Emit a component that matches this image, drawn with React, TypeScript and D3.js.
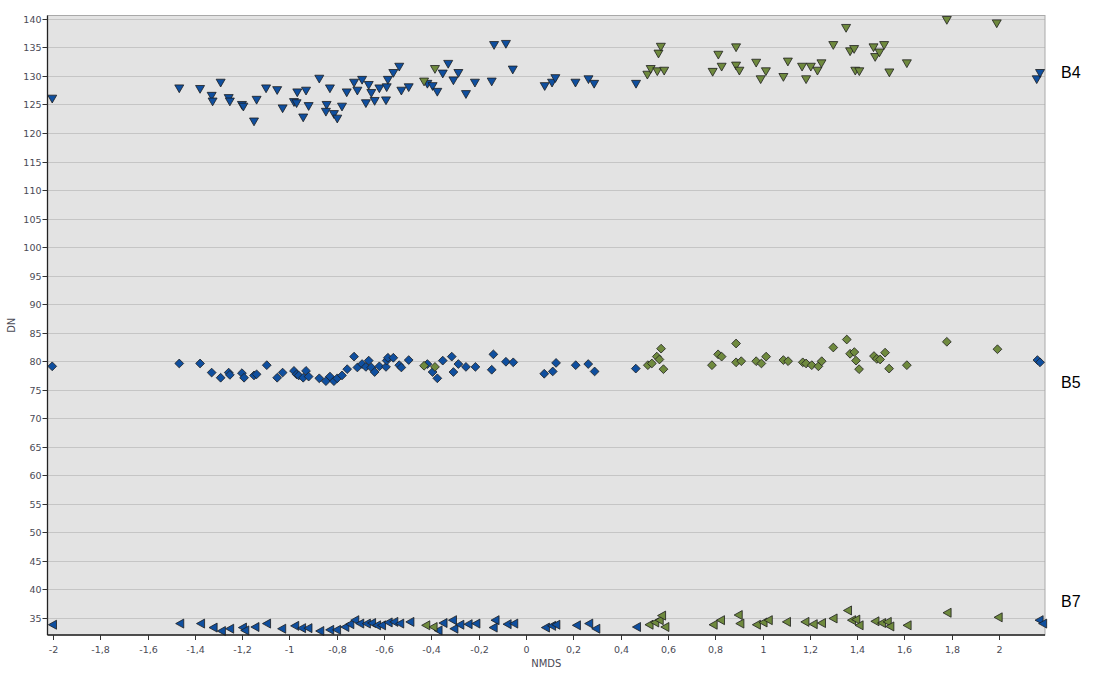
import React from "react";
import * as d3 from "d3";

// NMDS score vs. DN for bands B4, B5, B7; two sample groups (blue / green)
type Pt = [number, number];

const b4Blue: Pt[] = [
  [-2.003, 126.0], [-1.466, 127.8], [-1.378, 127.7], [-1.291, 128.8], [-1.329, 126.5], [-1.325, 125.5],
  [-1.257, 126.1], [-1.252, 125.5], [-1.201, 124.9], [-1.195, 124.6], [-1.15, 122.0], [-1.139, 125.8],
  [-1.099, 127.8], [-1.052, 127.5], [-1.029, 124.3], [-0.981, 125.4], [-0.97, 125.2], [-0.967, 127.1],
  [-0.942, 122.7], [-0.93, 127.4], [-0.919, 124.7], [-0.874, 129.5], [-0.843, 124.9], [-0.846, 123.7],
  [-0.829, 127.8], [-0.812, 123.3], [-0.798, 122.5], [-0.778, 124.6], [-0.758, 127.1], [-0.727, 128.8],
  [-0.713, 127.4], [-0.693, 129.3], [-0.677, 125.2], [-0.665, 128.4], [-0.654, 127.0], [-0.64, 125.6],
  [-0.62, 127.8], [-0.592, 125.7], [-0.589, 128.0], [-0.584, 129.3], [-0.561, 130.5], [-0.536, 131.6],
  [-0.527, 127.4], [-0.496, 128.0], [-0.417, 128.6], [-0.395, 128.2], [-0.375, 127.2], [-0.352, 130.4],
  [-0.329, 132.1], [-0.307, 129.2], [-0.286, 130.5], [-0.254, 126.8], [-0.216, 128.8], [-0.145, 129.0],
  [-0.135, 135.4], [-0.085, 135.6], [-0.056, 131.1], [0.079, 128.2], [0.11, 128.8], [0.124, 129.6],
  [0.209, 128.8], [0.264, 129.4], [0.288, 128.6], [0.465, 128.6], [2.159, 129.4], [2.173, 130.5],
];

const b4Green: Pt[] = [
  [-0.431, 129.0], [-0.385, 131.2], [0.513, 130.2], [0.527, 131.2], [0.555, 130.8], [0.584, 130.9],
  [0.56, 133.9], [0.57, 135.1], [0.789, 130.7], [0.813, 133.7], [0.827, 131.6], [0.888, 135.0],
  [0.888, 131.8], [0.902, 130.9], [0.973, 132.3], [0.992, 129.4], [1.014, 130.8], [1.088, 129.8],
  [1.107, 132.5], [1.167, 131.6], [1.184, 129.4], [1.204, 131.6], [1.232, 130.9], [1.249, 132.2],
  [1.299, 135.4], [1.353, 138.4], [1.37, 134.3], [1.387, 134.7], [1.392, 130.9], [1.409, 130.8],
  [1.469, 135.0], [1.476, 133.3], [1.494, 134.1], [1.514, 135.4], [1.536, 130.6], [1.61, 132.2],
  [1.779, 139.8], [1.99, 139.2],
];

const b5Blue: Pt[] = [
  [-2.003, 79.1], [-1.466, 79.6], [-1.378, 79.6], [-1.329, 78.0], [-1.291, 77.1], [-1.257, 78.0],
  [-1.252, 77.6], [-1.201, 77.9], [-1.192, 77.1], [-1.15, 77.5], [-1.139, 77.7], [-1.096, 79.3],
  [-1.052, 77.1], [-1.029, 78.0], [-0.981, 78.3], [-0.97, 77.7], [-0.961, 77.5], [-0.93, 78.3],
  [-0.942, 77.1], [-0.919, 77.3], [-0.874, 77.0], [-0.846, 76.5], [-0.829, 77.3], [-0.812, 76.5],
  [-0.798, 77.0], [-0.778, 77.5], [-0.756, 78.6], [-0.727, 80.8], [-0.713, 78.9], [-0.693, 79.5],
  [-0.677, 79.0], [-0.665, 80.1], [-0.654, 78.9], [-0.64, 78.1], [-0.62, 79.1], [-0.592, 79.0],
  [-0.589, 80.1], [-0.584, 80.6], [-0.561, 80.6], [-0.536, 79.3], [-0.527, 78.9], [-0.496, 80.2],
  [-0.417, 79.5], [-0.395, 78.1], [-0.375, 77.0], [-0.352, 80.1], [-0.314, 80.8], [-0.307, 78.1],
  [-0.286, 79.5], [-0.254, 79.0], [-0.214, 79.0], [-0.138, 81.2], [-0.145, 78.5], [-0.085, 79.9],
  [-0.054, 79.8], [0.077, 77.8], [0.113, 78.2], [0.127, 79.7], [0.21, 79.3], [0.263, 79.5],
  [0.29, 78.2], [0.464, 78.7], [2.162, 80.2], [2.173, 79.8],
];

const b5Green: Pt[] = [
  [-0.431, 79.2], [-0.385, 79.0], [0.515, 79.3], [0.532, 79.6], [0.553, 80.8], [0.564, 80.3],
  [0.571, 82.2], [0.581, 78.6], [0.786, 79.3], [0.812, 81.2], [0.827, 80.8], [0.888, 83.1],
  [0.888, 79.8], [0.91, 80.0], [0.973, 80.0], [0.995, 79.6], [1.015, 80.8], [1.088, 80.2],
  [1.108, 80.0], [1.17, 79.8], [1.184, 79.6], [1.208, 79.3], [1.236, 79.1], [1.25, 80.0],
  [1.299, 82.4], [1.356, 83.8], [1.37, 81.3], [1.388, 81.6], [1.395, 80.1], [1.408, 78.6],
  [1.471, 80.9], [1.483, 80.4], [1.497, 80.3], [1.518, 81.5], [1.535, 78.7], [1.61, 79.3],
  [1.779, 83.4], [1.993, 82.1],
];

const b7Blue: Pt[] = [
  [-2.001, 33.8], [-1.463, 34.0], [-1.375, 34.0], [-1.322, 33.3], [-1.287, 32.7], [-1.252, 33.1],
  [-1.198, 33.3], [-1.188, 32.8], [-1.145, 33.4], [-1.096, 34.0], [-1.032, 33.1], [-0.977, 33.6],
  [-0.948, 33.2], [-0.921, 33.2], [-0.871, 32.7], [-0.829, 32.9], [-0.8, 32.9], [-0.765, 33.4],
  [-0.744, 33.9], [-0.723, 34.6], [-0.702, 34.0], [-0.674, 34.0], [-0.652, 34.1], [-0.631, 33.7],
  [-0.61, 33.7], [-0.582, 34.2], [-0.558, 34.3], [-0.533, 34.0], [-0.49, 34.3], [-0.371, 32.8],
  [-0.35, 34.1], [-0.31, 34.6], [-0.304, 33.1], [-0.279, 33.8], [-0.244, 33.9], [-0.211, 34.0],
  [-0.13, 34.6], [-0.138, 33.3], [-0.079, 33.9], [-0.051, 34.0], [0.083, 33.3], [0.109, 33.6],
  [0.127, 33.8], [0.214, 33.7], [0.266, 34.0], [0.296, 33.1], [0.468, 33.4], [2.17, 34.6],
  [2.185, 34.0],
];

const b7Green: Pt[] = [
  [-0.423, 33.7], [-0.392, 33.4], [0.521, 33.8], [0.545, 34.2], [0.564, 34.6], [0.574, 35.4],
  [0.588, 33.4], [0.792, 33.8], [0.823, 34.6], [0.898, 35.5], [0.905, 34.0], [0.975, 33.8],
  [1.003, 34.2], [1.025, 34.6], [1.102, 34.3], [1.18, 34.3], [1.215, 33.9], [1.25, 34.1],
  [1.299, 34.9], [1.36, 36.3], [1.377, 34.6], [1.395, 34.7], [1.409, 33.7], [1.476, 34.4],
  [1.504, 34.1], [1.528, 34.3], [1.539, 33.5], [1.612, 33.7], [1.781, 35.9], [1.997, 35.1],
];

const xTicks = [-2, -1.8, -1.6, -1.4, -1.2, -1, -0.8, -0.6, -0.4, -0.2, 0, 0.2, 0.4, 0.6, 0.8, 1, 1.2, 1.4, 1.6, 1.8, 2];
const yTicks = [35, 40, 45, 50, 55, 60, 65, 70, 75, 80, 85, 90, 95, 100, 105, 110, 115, 120, 125, 130, 135, 140];
const bandLabels = [
  { name: "B4", value: 130.6 },
  { name: "B5", value: 76.3 },
  { name: "B7", value: 37.9 },
];

const W = 1095;
const H = 677;
const plot = { left: 47.5, top: 15.5, right: 1045, bottom: 635 };

const BLUE = "#0f4f9f";
const GREEN = "#6f8a3e";

const shapes = {
  down: "M-4.5,-3.6L4.5,-3.6L0,4.2Z",
  diamond: "M0,-4.4L4.4,0L0,4.4L-4.4,0Z",
  left: "M-4.3,0L3.8,-4.5L3.8,4.5Z",
};

const fmt = (v: number) => String(Math.round(v * 10) / 10).replace(".", ",");

export default function App() {
  const x = d3.scaleLinear().domain([-2.023, 2.194]).range([plot.left, plot.right]);
  const y = d3.scaleLinear().domain([32, 140.6]).range([plot.bottom, plot.top]);

  const series = [
    { data: b4Blue, fill: BLUE, shape: shapes.down },
    { data: b4Green, fill: GREEN, shape: shapes.down },
    { data: b5Blue, fill: BLUE, shape: shapes.diamond },
    { data: b5Green, fill: GREEN, shape: shapes.diamond },
    { data: b7Blue, fill: BLUE, shape: shapes.left },
    { data: b7Green, fill: GREEN, shape: shapes.left },
  ];

  const tickFont = "'DejaVu Sans', Verdana, sans-serif";

  return (
    <svg
      width={W}
      height={H}
      style={{ position: "absolute", left: 0, top: 0, background: "#fff" }}
    >
      <rect
        x={plot.left}
        y={plot.top}
        width={plot.right - plot.left}
        height={plot.bottom - plot.top}
        fill="#e3e3e3"
        stroke="#a9a9a9"
        strokeWidth={1}
      />
      {yTicks.map((t) => (
        <line
          key={"g" + t}
          x1={plot.left}
          x2={plot.right}
          y1={Math.round(y(t)) + 0.5}
          y2={Math.round(y(t)) + 0.5}
          stroke="#a6a6a6"
          strokeWidth={1}
          strokeDasharray="1,1"
        />
      ))}
      {series.map((s, i) => (
        <g key={i}>
          {s.data.map((d, j) => (
            <path
              key={j}
              d={s.shape}
              transform={`translate(${x(d[0])},${y(d[1])})`}
              fill={s.fill}
              stroke="#1e1e1e"
              strokeWidth={0.8}
              strokeLinejoin="round"
            />
          ))}
        </g>
      ))}
      {/* axes */}
      <line x1={plot.left} x2={plot.left} y1={plot.top} y2={plot.bottom} stroke="#222" strokeWidth={1.3} />
      <line x1={plot.left} x2={plot.right} y1={plot.bottom} y2={plot.bottom} stroke="#222" strokeWidth={1.3} />
      {yTicks.map((t) => (
        <g key={"y" + t} transform={`translate(0,${Math.round(y(t)) + 0.5})`}>
          <line x1={plot.left - 5} x2={plot.left} stroke="#333" strokeWidth={1} />
          <text
            x={plot.left - 6}
            dy="0.34em"
            textAnchor="end"
            fontSize={9.5}
            fontFamily={tickFont}
            fill="#4a4a55"
          >
            {t}
          </text>
        </g>
      ))}
      {xTicks.map((t) => (
        <g key={"x" + t} transform={`translate(${Math.round(x(t)) + 0.5},0)`}>
          <line y1={plot.bottom} y2={plot.bottom + 5} stroke="#333" strokeWidth={1} />
          <text
            y={plot.bottom + 18}
            textAnchor="middle"
            fontSize={9.5}
            fontFamily={tickFont}
            fill="#4a4a55"
          >
            {fmt(t)}
          </text>
        </g>
      ))}
      <text
        x={(plot.left + plot.right) / 2}
        y={667}
        textAnchor="middle"
        fontSize={10}
        fontFamily={tickFont}
        fill="#4a4a55"
      >
        NMDS
      </text>
      <text
        transform={`translate(15,${(plot.top + plot.bottom) / 2}) rotate(-90)`}
        textAnchor="middle"
        fontSize={10}
        fontFamily={tickFont}
        fill="#4a4a55"
      >
        DN
      </text>
      {bandLabels.map((b) => (
        <text
          key={b.name}
          x={1061}
          y={y(b.value)}
          dy="0.35em"
          fontSize={16}
          fontFamily="'Liberation Sans', Arial, sans-serif"
          fill="#000"
        >
          {b.name}
        </text>
      ))}
    </svg>
  );
}
